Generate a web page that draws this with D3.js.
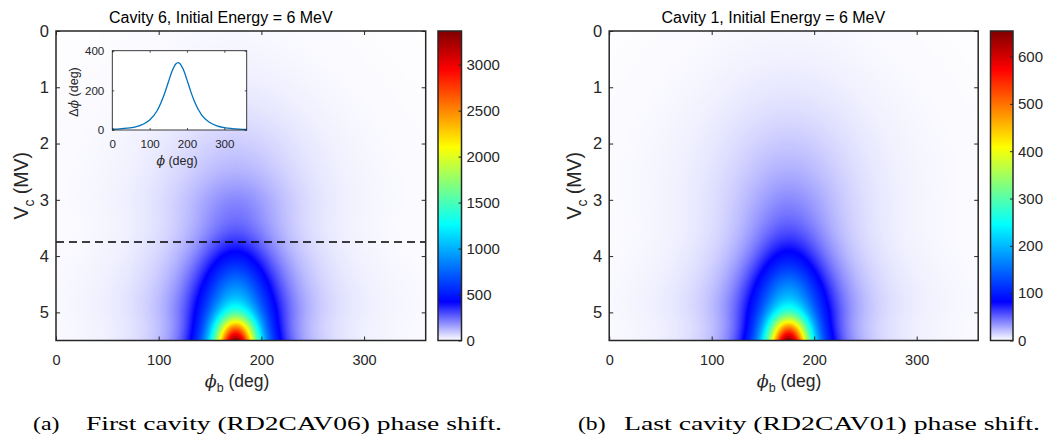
<!DOCTYPE html>
<html>
<head>
<meta charset="utf-8">
<script src="https://cdn.jsdelivr.net/npm/d3@7"></script>
<style>
  body { margin: 0; background: #fff; }
  svg { display: block; }
</style>
</head>
<body>
<svg id="fig" width="1045" height="436"></svg>
<script>
// ---- data -------------------------------------------------------------
// Sample grid: bunch phase (deg) columns, cavity voltage (MV) rows
const phiNodes = [0, 30, 60, 90, 110, 130, 145, 160, 175, 190, 205, 220, 240, 260, 290, 320, 360];
const vcNodes  = [0, 1, 2, 2.5, 3, 3.5, 4, 4.5, 5, 5.25, 5.5];

// Phase shift (deg), cavity 6, 6 MeV
const cav6Shift = [
  [2.4, 3.3, 4.8, 6.8, 8.4, 10.0, 11.0, 11.7, 12, 11.7, 11.0, 10.0, 8.4, 6.8, 4.8, 3.3, 2.1],
  [4.0, 5.9, 9.1, 13.9, 18.3, 23.2, 26.6, 29.1, 30, 29.1, 26.6, 23.2, 18.3, 13.9, 9.1, 5.9, 3.5],
  [6.4, 10.0, 16.4, 27.9, 39.9, 55.6, 68.0, 77.9, 82, 77.9, 68.0, 55.6, 39.9, 27.9, 16.4, 10.0, 5.6],
  [7.2, 11.4, 19.2, 34.6, 52.1, 77.1, 98.9, 117.5, 125, 117.5, 98.9, 77.1, 52.1, 34.6, 19.2, 11.4, 6.2],
  [7.6, 12.4, 21.6, 41.1, 65.7, 105, 143.5, 179.5, 195, 179.5, 143.5, 105, 65.7, 41.1, 21.6, 12.4, 6.6],
  [6.8, 11.3, 20.3, 40.9, 69.1, 120.1, 177, 237, 265, 237, 177, 120.1, 69.1, 40.9, 20.3, 11.3, 5.8],
  [8.2, 13.8, 25.4, 53.3, 94.5, 177, 281, 406, 470, 406, 281, 177, 94.5, 53.3, 25.4, 13.8, 7.0],
  [10.4, 17.7, 33.2, 71.8, 132.5, 264.8, 452, 707, 850, 707, 452, 264.8, 132.5, 71.8, 33.2, 17.7, 8.9],
  [10.9, 18.8, 35.9, 80.4, 155.6, 339.7, 647, 1158, 1500, 1158, 647, 339.7, 155.6, 80.4, 35.9, 18.8, 9.3],
  [9.7, 16.7, 32.4, 75.0, 151.7, 361, 778, 1678, 2450, 1678, 778, 361, 151.7, 75.0, 32.4, 16.7, 8.2],
  [10, 17.5, 34, 80, 164, 404, 915, 2155, 3366, 2155, 915, 404, 164, 80, 34, 17.5, 8.6]
];

// Phase shift (deg), cavity 1, 6 MeV
const cav1Shift = [
  [0.6, 0.83, 1.2, 1.7, 2.1, 2.5, 2.75, 2.93, 3.0, 2.93, 2.75, 2.5, 2.1, 1.7, 1.2, 0.83, 0.53],
  [0.97, 1.44, 2.21, 3.38, 4.45, 5.64, 6.47, 7.08, 7.3, 7.08, 6.47, 5.64, 4.45, 3.38, 2.21, 1.44, 0.85],
  [1.38, 2.15, 3.5, 5.97, 8.54, 11.9, 14.56, 16.68, 17.5, 16.68, 14.56, 11.9, 8.54, 5.97, 3.5, 2.15, 1.19],
  [1.48, 2.35, 3.96, 7.11, 10.7, 15.85, 20.34, 24.16, 25.7, 24.16, 20.34, 15.85, 10.7, 7.11, 3.96, 2.35, 1.27],
  [1.45, 2.37, 4.15, 7.89, 12.6, 20.15, 27.5, 34.4, 37.4, 34.4, 27.5, 20.15, 12.6, 7.89, 4.15, 2.37, 1.26],
  [1.39, 2.3, 4.14, 8.34, 14.08, 24.48, 36.07, 48.3, 54, 48.3, 36.07, 24.48, 14.08, 8.34, 4.14, 2.3, 1.18],
  [1.59, 2.68, 4.94, 10.36, 18.36, 34.4, 54.6, 78.9, 91.3, 78.9, 54.6, 34.4, 18.36, 10.36, 4.94, 2.68, 1.36],
  [2.02, 3.44, 6.45, 13.95, 25.7, 51.5, 87.8, 137.4, 165, 137.4, 87.8, 51.5, 25.7, 13.95, 6.45, 3.44, 1.73],
  [2.12, 3.65, 6.98, 15.6, 30.2, 66, 125.7, 225, 291, 225, 125.7, 66, 30.2, 15.6, 6.98, 3.65, 1.81],
  [1.88, 3.24, 6.3, 14.57, 29.5, 70.1, 151.2, 326, 476, 326, 151.2, 70.1, 29.5, 14.57, 6.3, 3.24, 1.59],
  [1.94, 3.4, 6.6, 15.5, 31.9, 78.5, 177.8, 418.7, 654, 418.7, 177.8, 78.5, 31.9, 15.5, 6.6, 3.4, 1.67]
];

// Inset: phase shift along the cut at Vc = 3.75 MV
const cutVc = 3.75;
const insetPhi   = [0, 20, 40, 60, 80, 100, 120, 140, 150, 160, 170, 176, 180, 190, 200, 210, 220, 240, 260, 280, 300, 320, 340, 360];
const insetShift = [3.7, 5.6, 9, 15, 27, 50, 97, 184, 241, 296, 333, 340, 337, 306, 253, 195, 144, 74, 39, 21, 12, 7.4, 4.7, 3.1];

const phiTicks = [0, 100, 200, 300];
const vcTicks = [0, 1, 2, 3, 4, 5];
const cav6Ticks = [0, 500, 1000, 1500, 2000, 2500, 3000];
const cav1Ticks = [0, 100, 200, 300, 400, 500, 600];
const insetPhiTicks = [0, 100, 200, 300];
const insetShiftTicks = [0, 200, 400];

const titles = ["Cavity 6, Initial Energy = 6 MeV", "Cavity 1, Initial Energy = 6 MeV"];
const captions = [["(a)", "First cavity (RD2CAV06) phase shift."], ["(b)", "Last cavity (RD2CAV01) phase shift."]];

// ---- drawing ----------------------------------------------------------
const SANS = "'Liberation Sans', Arial, Helvetica, sans-serif";
const SERIF = "'Liberation Serif', 'Times New Roman', serif";
const GREEK = "'DejaVu Serif', serif";
const INK = "#262626";
const svg = d3.select("#fig");

// white -> blue, then jet
function makeColor(max) {
  return d3.scaleLinear()
    .domain([0, max / 8, 3 * max / 8, 5 * max / 8, 7 * max / 8, max])
    .range(["#ffffff", "#0000ff", "#00ffff", "#ffff00", "#ff0000", "#800000"])
    .clamp(true);
}

// natural cubic spline through the nodes
function naturalSpline(xs, ys) {
  const n = xs.length, h = [], M = new Array(n).fill(0);
  for (let i = 0; i < n - 1; i++) h[i] = xs[i + 1] - xs[i];
  const a = [], b = [], c = [], r = [];
  for (let i = 1; i < n - 1; i++) {
    a[i] = h[i - 1]; b[i] = 2 * (h[i - 1] + h[i]); c[i] = h[i];
    r[i] = 6 * ((ys[i + 1] - ys[i]) / h[i] - (ys[i] - ys[i - 1]) / h[i - 1]);
  }
  for (let i = 2; i < n - 1; i++) {
    const w = a[i] / b[i - 1];
    b[i] -= w * c[i - 1]; r[i] -= w * r[i - 1];
  }
  for (let i = n - 2; i >= 1; i--) M[i] = (r[i] - (i < n - 2 ? c[i] * M[i + 1] : 0)) / b[i];
  return x => {
    let i = d3.bisectRight(xs, x) - 1;
    i = Math.max(0, Math.min(n - 2, i));
    const hi = h[i], A = xs[i + 1] - x, B = x - xs[i];
    return M[i] * A * A * A / (6 * hi) + M[i + 1] * B * B * B / (6 * hi) +
      (ys[i] / hi - M[i] * hi / 6) * A + (ys[i + 1] / hi - M[i + 1] * hi / 6) * B;
  };
}

function drawField(g, grid, x, y, color) {
  const [px0, px1] = x.range(), [py0, py1] = y.range();
  const W = Math.round(px1 - px0), H = Math.round(py1 - py0);
  const rowFns = grid.map(r => naturalSpline(phiNodes, r.map(Math.log)));
  const cv = document.createElement("canvas");
  cv.width = W; cv.height = H;
  const ctx = cv.getContext("2d");
  const img = ctx.createImageData(W, H);
  for (let i = 0; i < W; i++) {
    const phi = x.invert(px0 + (i + 0.5) * (px1 - px0) / W);
    const colFn = naturalSpline(vcNodes, rowFns.map(f => f(phi)));
    for (let j = 0; j < H; j++) {
      const vc = y.invert(py0 + (j + 0.5) * (py1 - py0) / H);
      const c = d3.rgb(color(Math.exp(colFn(vc))));
      const k = (j * W + i) * 4;
      img.data[k] = c.r; img.data[k + 1] = c.g; img.data[k + 2] = c.b; img.data[k + 3] = 255;
    }
  }
  ctx.putImageData(img, 0, 0);
  g.append("image")
    .attr("x", px0).attr("y", py0)
    .attr("width", px1 - px0).attr("height", py1 - py0)
    .attr("preserveAspectRatio", "none")
    .attr("href", cv.toDataURL());
}

function styleAxis(sel, size) {
  sel.select(".domain").remove();
  sel.selectAll(".tick line").attr("stroke", INK).attr("stroke-width", 1);
  sel.selectAll(".tick text").attr("fill", INK).style("font-family", SANS).style("font-size", size + "px");
}

const panels = [
  { grid: cav6Shift, ticks: cav6Ticks, x0: 56, x1: 425.7, cb: [438, 461.5], title: titles[0],
    titleX: 109, caption: captions[0], capA: [33, 59.5], capMain: [86, 502], ylabX: 28, xlabX: 237, cut: true },
  { grid: cav1Shift, ticks: cav1Ticks, x0: 609.2, x1: 978.2, cb: [990.5, 1013], title: titles[1],
    titleX: 661.5, caption: captions[1], capA: [578, 605.5], capMain: [624, 1040], ylabX: 581, xlabX: 789, cut: false }
];
const Y0 = 31, Y1 = 340.5;

panels.forEach((p, idx) => {
  const g = svg.append("g");
  const x = d3.scaleLinear().domain([0, 360]).range([p.x0, p.x1]);
  const y = d3.scaleLinear().domain([0, 5.5]).range([Y0, Y1]);
  const max = d3.max(p.grid.flat());
  const color = makeColor(max);

  drawField(g, p.grid, x, y, color);

  if (p.cut) {
    g.append("line")
      .attr("x1", p.x0).attr("x2", p.x1)
      .attr("y1", y(cutVc)).attr("y2", y(cutVc))
      .attr("stroke", "#000").attr("stroke-width", 1.3).attr("stroke-dasharray", "8,5");
  }

  // axes: inward ticks on all four sides
  const bottom = g.append("g").attr("transform", `translate(0,${Y1})`)
    .call(d3.axisBottom(x).tickValues(phiTicks).tickSize(-4).tickPadding(14).tickFormat(d3.format("d")));
  styleAxis(bottom, 14.5);
  const top = g.append("g").attr("transform", `translate(0,${Y0})`)
    .call(d3.axisTop(x).tickValues(phiTicks).tickSize(-4).tickFormat(""));
  styleAxis(top, 14.5);
  const left = g.append("g").attr("transform", `translate(${p.x0},0)`)
    .call(d3.axisLeft(y).tickValues(vcTicks).tickSize(-4).tickPadding(7).tickFormat(d3.format("d")));
  styleAxis(left, 16.5);
  const right = g.append("g").attr("transform", `translate(${p.x1},0)`)
    .call(d3.axisRight(y).tickValues(vcTicks).tickSize(-4).tickFormat(""));
  styleAxis(right, 16.5);

  g.append("rect")
    .attr("x", p.x0).attr("y", Y0).attr("width", p.x1 - p.x0).attr("height", Y1 - Y0)
    .attr("fill", "none").attr("stroke", INK).attr("stroke-width", 1.5);

  // colour bar
  const cbScale = d3.scaleLinear().domain([0, max]).range([Y1, Y0]);
  const gradId = "cmap" + idx;
  const grad = svg.append("defs").append("linearGradient").attr("id", gradId)
    .attr("x1", 0).attr("y1", 1).attr("x2", 0).attr("y2", 0);
  color.domain().forEach((d, i) => {
    grad.append("stop").attr("offset", d / max).attr("stop-color", color.range()[i]);
  });
  g.append("rect")
    .attr("x", p.cb[0]).attr("y", Y0).attr("width", p.cb[1] - p.cb[0]).attr("height", Y1 - Y0)
    .attr("fill", `url(#${gradId})`);
  const cbAxis = g.append("g").attr("transform", `translate(${p.cb[1]},0)`)
    .call(d3.axisRight(cbScale).tickValues(p.ticks).tickSize(-3).tickPadding(5).tickFormat(d3.format("d")));
  styleAxis(cbAxis, 15);
  g.append("rect")
    .attr("x", p.cb[0]).attr("y", Y0).attr("width", p.cb[1] - p.cb[0]).attr("height", Y1 - Y0)
    .attr("fill", "none").attr("stroke", INK).attr("stroke-width", 1.5);

  // title
  g.append("text").attr("x", p.titleX).attr("y", 22.5)
    .style("font-family", SANS).style("font-size", "16px").attr("fill", "#000")
    .text(p.title);

  // x label: phi_b (deg)
  const xl = g.append("text").attr("x", p.xlabX).attr("y", 386.5).attr("text-anchor", "middle")
    .style("font-family", SANS).style("font-size", "17.5px").attr("fill", INK);
  xl.append("tspan").style("font-family", GREEK).style("font-style", "italic").text("ϕ");
  xl.append("tspan").attr("dy", 5).style("font-size", "12.5px").text("b");
  xl.append("tspan").attr("dy", -5).text(" (deg)");

  // y label: V_c (MV)
  const yl = g.append("text").attr("transform", `translate(${p.ylabX},${(Y0 + Y1) / 2}) rotate(-90)`)
    .attr("text-anchor", "middle").style("font-family", SANS).style("font-size", "19.5px").attr("fill", INK);
  yl.append("tspan").text("V");
  yl.append("tspan").attr("dy", 6).style("font-size", "14px").text("c");
  yl.append("tspan").attr("dy", -6).text(" (MV)");

  // caption
  g.append("text").attr("x", p.capA[0]).attr("y", 429.5)
    .attr("textLength", p.capA[1] - p.capA[0]).attr("lengthAdjust", "spacingAndGlyphs")
    .style("font-family", SERIF).style("font-size", "18px").attr("fill", "#000")
    .text(p.caption[0]);
  g.append("text").attr("x", p.capMain[0]).attr("y", 429.5)
    .attr("textLength", p.capMain[1] - p.capMain[0]).attr("lengthAdjust", "spacingAndGlyphs")
    .style("font-family", SERIF).style("font-size", "18px").attr("fill", "#000")
    .text(p.caption[1]);

  // inset line plot on the first panel
  if (p.cut) {
    const ix = d3.scaleLinear().domain([0, 360]).range([112.3, 246.7]);
    const iy = d3.scaleLinear().domain([0, 400]).range([130, 50.7]);
    const ig = g.append("g");
    ig.append("rect").attr("x", 112.3).attr("y", 50.7).attr("width", 134.4).attr("height", 79.3).attr("fill", "#fff");
    ig.append("path")
      .datum(insetPhi.map((d, i) => [d, insetShift[i]]))
      .attr("fill", "none").attr("stroke", "#0072bd").attr("stroke-width", 1.3)
      .attr("d", d3.line().x(d => ix(d[0])).y(d => iy(d[1])).curve(d3.curveMonotoneX));
    const ib = ig.append("g").attr("transform", "translate(0,130)")
      .call(d3.axisBottom(ix).tickValues(insetPhiTicks).tickSize(-2).tickPadding(9.5).tickFormat(d3.format("d")));
    styleAxis(ib, 11.6);
    const it = ig.append("g").attr("transform", "translate(0,50.7)")
      .call(d3.axisTop(ix).tickValues(insetPhiTicks).tickSize(-2).tickFormat(""));
    styleAxis(it, 11.6);
    const il = ig.append("g").attr("transform", "translate(112.3,0)")
      .call(d3.axisLeft(iy).tickValues(insetShiftTicks).tickSize(-2).tickPadding(8).tickFormat(d3.format("d")));
    styleAxis(il, 11.6);
    const ir = ig.append("g").attr("transform", "translate(246.7,0)")
      .call(d3.axisRight(iy).tickValues(insetShiftTicks).tickSize(-2).tickFormat(""));
    styleAxis(ir, 11.6);
    ig.selectAll(".tick line").attr("stroke-width", 0.8);
    ig.append("rect").attr("x", 112.3).attr("y", 50.7).attr("width", 134.4).attr("height", 79.3)
      .attr("fill", "none").attr("stroke", INK).attr("stroke-width", 0.9);
    const ixl = ig.append("text").attr("x", 177).attr("y", 165).attr("text-anchor", "middle")
      .style("font-family", SANS).style("font-size", "12.5px").attr("fill", INK);
    ixl.append("tspan").style("font-family", GREEK).style("font-style", "italic").text("ϕ");
    ixl.append("tspan").text(" (deg)");
    const iyl = ig.append("text").attr("transform", "translate(78,92) rotate(-90)").attr("text-anchor", "middle")
      .style("font-family", SANS).style("font-size", "12.5px").attr("fill", INK);
    iyl.append("tspan").text("Δ");
    iyl.append("tspan").style("font-family", GREEK).style("font-style", "italic").text("ϕ");
    iyl.append("tspan").text(" (deg)");
  }
});
</script>
</body>
</html>
